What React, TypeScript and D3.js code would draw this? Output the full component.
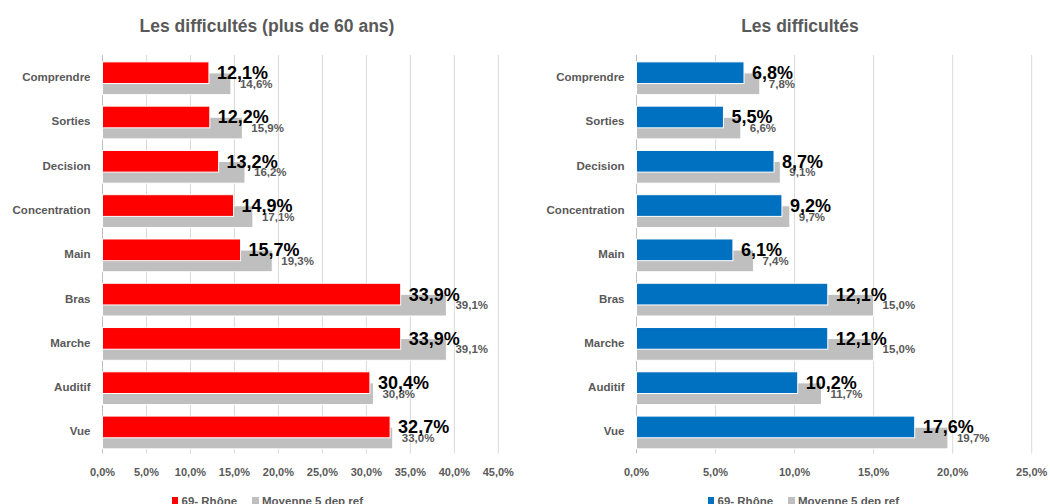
import React from "react";
import * as d3 from "d3";

const categories = ["Comprendre", "Sorties", "Decision", "Concentration", "Main", "Bras", "Marche", "Auditif", "Vue"];

const left60Rhone = [12.1, 12.2, 13.2, 14.9, 15.7, 33.9, 33.9, 30.4, 32.7];
const left60Ref = [14.6, 15.9, 16.2, 17.1, 19.3, 39.1, 39.1, 30.8, 33.0];
const leftTicks = [0, 5, 10, 15, 20, 25, 30, 35, 40, 45];

const rightRhone = [6.8, 5.5, 8.7, 9.2, 6.1, 12.1, 12.1, 10.2, 17.6];
const rightRef = [7.8, 6.6, 9.1, 9.7, 7.4, 15.0, 15.0, 11.7, 19.7];
const rightTicks = [0, 5, 10, 15, 20, 25];

const seriesNames = ["69- Rhône", "Moyenne 5 dep ref"];
const titles = ["Les difficultés (plus de 60 ans)", "Les difficultés"];

const TXT = "#595959";
const GRAY = "#BFBFBF";
const GRID = "#D9D9D9";
const FONT = "'Liberation Sans', Arial, sans-serif";

const fmt = (v: number) => d3.format(".1f")(v).replace(".", ",") + "%";

type PanelProps = {
  title: string;
  titleX: number;
  x0: number;
  x1: number;
  maxV: number;
  ticks: number[];
  main: number[];
  ref: number[];
  color: string;
  legendX: number;
};

function Panel(p: PanelProps) {
  const x = d3.scaleLinear().domain([0, p.maxV]).range([p.x0, p.x1]);
  const y = d3.scaleBand<string>().domain(categories).range([55, 453.5]).padding(0);
  const bw = y.bandwidth();
  return (
    <g>
      <text x={p.titleX} y={32} textAnchor="middle" fontFamily={FONT} fontWeight="bold" fontSize={17.5} fill={TXT}>
        {p.title}
      </text>
      {p.ticks.map((t) => (
        <g key={t}>
          <line x1={x(t)} x2={x(t)} y1={55} y2={453.5} stroke={t === 0 ? "#BFBFBF" : GRID} strokeWidth={1} />
          <text x={x(t)} y={475.5} textAnchor="middle" fontFamily={FONT} fontWeight="bold" fontSize={11} fill={TXT}>
            {fmt(t)}
          </text>
        </g>
      ))}
      {categories.map((c, i) => {
        const b = y(c)!;
        return (
          <g key={c}>
            <text x={p.x0 - 12} y={b + bw / 2 + 4} textAnchor="end" fontFamily={FONT} fontWeight="bold" fontSize={11.5} fill={TXT}>
              {c}
            </text>
            <rect x={x(0)} y={b + 0.405 * bw} width={x(p.ref[i]) - x(0)} height={0.49 * bw} fill={GRAY} stroke="#fff" strokeWidth={1} />
            <rect x={x(0)} y={b + 0.155 * bw} width={x(p.main[i]) - x(0)} height={0.49 * bw} fill={p.color} stroke="#fff" strokeWidth={1} />
          </g>
        );
      })}
      {categories.map((c, i) => {
        const b = y(c)!;
        return (
          <g key={c + "l"}>
            <text x={x(p.ref[i]) + 9} y={b + 0.65 * bw + 4} fontFamily={FONT} fontWeight="bold" fontSize={11.5} fill={TXT}>
              {fmt(p.ref[i])}
            </text>
            <text x={x(p.main[i]) + 8} y={b + 0.4 * bw + 6.5} fontFamily={FONT} fontWeight="bold" fontSize={18} fill="#000">
              {fmt(p.main[i])}
            </text>
          </g>
        );
      })}
      <g>
        <rect x={p.legendX} y={497} width={6} height={7} fill={p.color} />
        <text x={p.legendX + 9.5} y={505} fontFamily={FONT} fontWeight="bold" fontSize={11.5} fill={TXT}>
          {seriesNames[0]}
        </text>
        <rect x={p.legendX + 80} y={497} width={7} height={7} fill={GRAY} />
        <text x={p.legendX + 90} y={505} fontFamily={FONT} fontWeight="bold" fontSize={11.5} fill={TXT}>
          {seriesNames[1]}
        </text>
      </g>
    </g>
  );
}

export default function App() {
  return (
    <svg width={1050} height={504} style={{ position: "absolute", left: 0, top: 0, background: "#fff" }}>
      <rect width={1050} height={504} fill="#fff" />
      <Panel
        title={titles[0]}
        titleX={267}
        x0={102.5}
        x1={498.3}
        maxV={45}
        ticks={leftTicks}
        main={left60Rhone}
        ref={left60Ref}
        color="#FF0000"
        legendX={172}
      />
      <Panel
        title={titles[1]}
        titleX={800}
        x0={636.5}
        x1={1031.7}
        maxV={25}
        ticks={rightTicks}
        main={rightRhone}
        ref={rightRef}
        color="#0070C0"
        legendX={708}
      />
    </svg>
  );
}
